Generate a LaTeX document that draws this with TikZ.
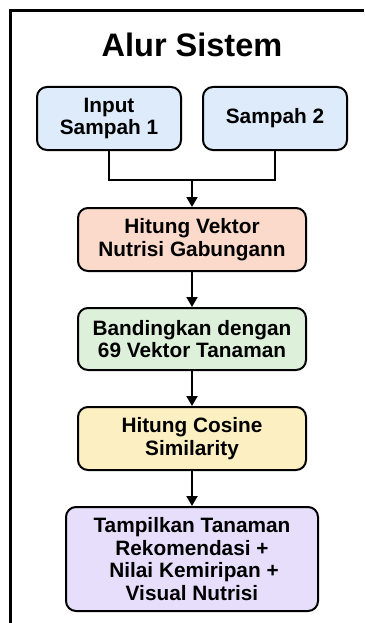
\documentclass[tikz,border=0pt]{standalone}
\usepackage{fontspec}
\setmainfont{Liberation Sans}
\usetikzlibrary{arrows.meta, positioning}

\definecolor{bluefill}{HTML}{DDEBFA}
\definecolor{salmonfill}{HTML}{FBDACB}
\definecolor{greenfill}{HTML}{DDF1DA}
\definecolor{yellowfill}{HTML}{FCF0C3}
\definecolor{purplefill}{HTML}{E7DEFB}

\tikzset{
	flowbox/.style={draw, line width=2pt, rounded corners=10pt, align=center,
		font=\fontsize{20.8}{22.5}\selectfont\bfseries, inner sep=0pt},
	flowline/.style={line width=2pt},
	flowarrow/.style={line width=2pt, -{Triangle[length=10pt, width=11pt]}}
}

\begin{document}
\begin{tikzpicture}[x=1pt, y=-1pt]
		
		\useasboundingbox (0,0) rectangle (364,623);
		
		% Bingkai luar
		\draw[line width=2.2pt] (10.5,623) -- (10.5,10.5) -- (364,10.5);
		
		% Judul
		\node[font=\fontsize{32.5}{36}\selectfont\bfseries] (title) at (192,45) {Alur Sistem};
		
		% Kotak masukan
		\node[flowbox, fill=bluefill, minimum width=144pt, minimum height=63pt] (in_one) at (109,118.5) {Input\\Sampah 1};
		\node[flowbox, fill=bluefill, minimum width=144pt, minimum height=63pt] (in_two) at (275,118.5) {Sampah 2};
		
		% Kotak proses
		\node[flowbox, fill=salmonfill, minimum width=228pt, minimum height=63pt] (vec_sum) at (192,239.5) {Hitung Vektor\\Nutrisi Gabungann};
		\node[flowbox, fill=greenfill, minimum width=228pt, minimum height=62pt] (compare) at (192,339) {Bandingkan dengan\\69 Vektor Tanaman};
		\node[flowbox, fill=yellowfill, minimum width=228pt, minimum height=63pt] (cosine) at (192,438.5) {Hitung Cosine\\Similarity};
		\node[flowbox, fill=purplefill, minimum width=252pt, minimum height=104pt] (result) at (192,559)
			{Tampilkan Tanaman\\Rekomendasi +\hspace*{20pt}\\\hspace*{4pt}Nilai Kemiripan +\\Visual Nutrisi};
		
		% Penghubung
		\coordinate (join) at (192,180);
		\draw[flowline] (in_one.south) |- (join) -| (in_two.south);
		\draw[flowarrow] (join) -- (vec_sum.north);
		\draw[flowarrow] (vec_sum) -- (compare);
		\draw[flowarrow] (compare) -- (cosine);
		\draw[flowarrow] (cosine) -- (result);
		
	\end{tikzpicture}
\end{document}
